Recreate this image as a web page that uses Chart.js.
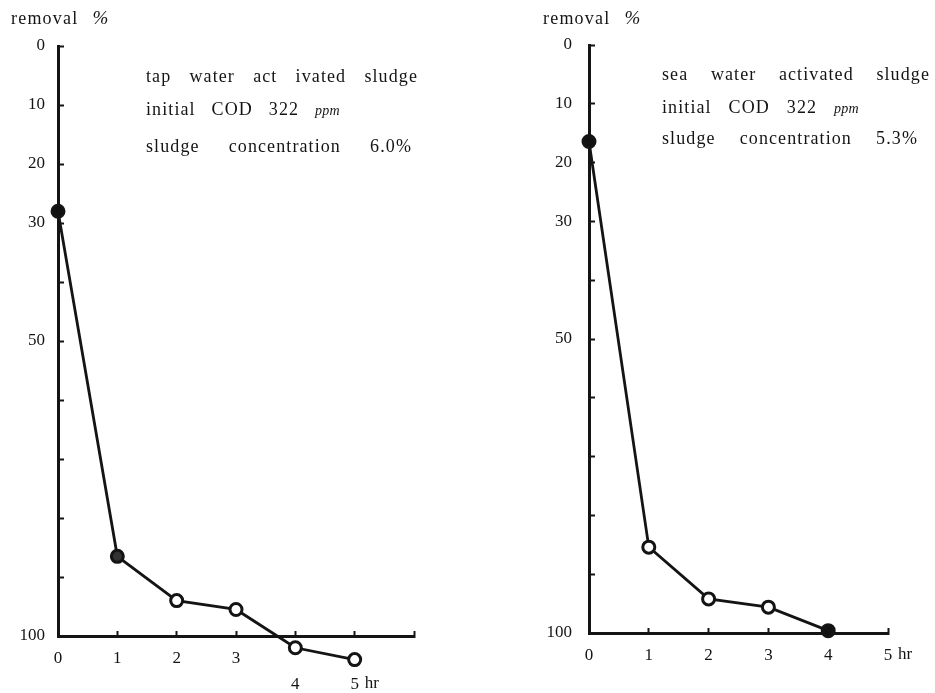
<!DOCTYPE html>
<html>
<head>
<meta charset="utf-8">
<script src="https://cdn.jsdelivr.net/npm/chart.js@4/dist/chart.umd.min.js"></script>
<style>
  body { margin: 0; width: 935px; height: 693px; position: relative; overflow: hidden;
         background: #fff; color: #141414; font-family: 'Liberation Serif', 'DejaVu Serif', serif; }
  .box { position: absolute; top: 0; height: 693px; }
  .ytitle { position: absolute; top: 7px; font-size: 18px; letter-spacing: 1.2px; white-space: nowrap; }
  .ytitle i { margin-left: 14px; font-size: 19px; }
  .note { position: absolute; font-size: 18px; line-height: 20px; letter-spacing: 1.1px; white-space: nowrap; }
  .note div { position: absolute; left: 0; text-align: justify; text-align-last: justify; }
  .note i { font-size: 14px; letter-spacing: 0.3px; }
</style>
</head>
<body>

<div class="box" style="left:0;width:440px"><canvas id="tapChart"></canvas></div>
<div class="box" style="left:531px;width:404px"><canvas id="seaChart"></canvas></div>

<div class="ytitle" style="left:11px">removal<i>%</i></div>
<div class="ytitle" style="left:543px">removal<i>%</i></div>

<div class="note" style="left:146px;top:0">
  <div style="top:66px;width:272px">tap water act ivated sludge</div>
  <div style="top:99px;width:194px">initial COD 322 <i>ppm</i></div>
  <div style="top:136px;width:266px">sludge concentration 6.0%</div>
</div>
<div class="note" style="left:662px;top:0">
  <div style="top:64px;width:268px">sea water activated sludge</div>
  <div style="top:97px;width:197px">initial COD 322 <i>ppm</i></div>
  <div style="top:128px;width:256px">sludge concentration 5.3%</div>
</div>

<script>
// ── data ────────────────────────────────────────────
const tapHours   = [0, 1, 2, 3, 4, 5];
const tapRemoval = [28, 86.5, 94, 95.5, 102, 104];
const tapFill    = ['#111', '#333', '#fff', '#fff', '#fff', '#fff'];

const seaHours   = [0, 1, 2, 3, 4];
const seaRemoval = [16.4, 85.4, 94.2, 95.6, 99.6];
const seaFill    = ['#111', '#fff', '#fff', '#fff', '#111'];

const yLabelled  = [0, 10, 20, 30, 50, 100];   // other 10-steps get a bare tick
const tapLowered = [4, 5];                     // x labels pushed down a line
const hrUnit     = 'hr';

const SERIF = "'Liberation Serif', serif";
const INK = '#141414';

// draws the "hr" unit right of the "5" label, and the points that
// fall below the 100 % line (Chart.js skips points outside chartArea)
const extras = {
  id: 'extras',
  afterDatasetsDraw(chart) {
    const big = { left: -1e4, top: -1e4, right: 1e4, bottom: 1e4 };
    chart.getDatasetMeta(0).data.forEach(pt => {
      if (pt.y > chart.chartArea.bottom) pt.draw(chart.ctx, big);
    });
  },
  afterDraw(chart, args, opts) {
    const x = chart.scales.x;
    const ctx = chart.ctx;
    ctx.save();
    ctx.font = `17px ${SERIF}`;
    ctx.fillStyle = INK;
    ctx.textBaseline = 'middle';
    ctx.fillText(hrUnit, x.getPixelForValue(opts.value) + 10, x.top + opts.dy);
    ctx.restore();
  }
};

function makeChart(id, hours, removal, fills, o) {
  const ctx = document.getElementById(id);
  ctx.width = o.w; ctx.height = 693;
  return new Chart(ctx, {
    type: 'line',
    data: {
      datasets: [{
        data: hours.map((h, i) => ({ x: h, y: removal[i] })),
        borderColor: INK,
        borderWidth: 2.8,
        pointRadius: 6,
        pointBorderWidth: 3,
        pointBorderColor: INK,
        pointBackgroundColor: fills,
        tension: 0,
        clip: false,
      }]
    },
    options: {
      responsive: false,
      animation: false,
      layout: { padding: { top: o.top, right: o.right, left: 0, bottom: 0 } },
      scales: {
        x: {
          type: 'linear', min: 0, max: o.xmax,
          afterFit: s => { s.height = 693 - o.bottom; },
          ticks: {
            stepSize: 1, padding: 15, color: INK, maxRotation: 0, autoSkip: false,
            font: { family: SERIF, size: 17, lineHeight: 1.5 },
            callback: v => {
              if (v >= o.xmax && o.xmax > 5) return '';
              return o.lowered.includes(v) ? ['', String(v)] : String(v);
            },
          },
          grid: { drawOnChartArea: false, tickLength: -5, tickWidth: 2, tickColor: INK },
          border: { display: true, color: INK, width: 3 },
        },
        y: {
          type: 'linear', min: 0, max: 100, reverse: true,
          afterFit: s => { s.width = 58; },
          ticks: {
            stepSize: 10, padding: o.ypad, color: INK,
            font: { family: SERIF, size: 17 },
            callback: v => yLabelled.includes(v) ? String(v) : '',
          },
          grid: { drawOnChartArea: false, tickLength: -6, tickWidth: 2, tickColor: INK },
          border: { display: true, color: INK, width: 3 },
        }
      },
      plugins: {
        legend: { display: false },
        tooltip: { enabled: false },
        extras: { value: 5, dy: o.hrDy },
      }
    },
    plugins: [extras]
  });
}

makeChart('tapChart', tapHours, tapRemoval, tapFill,
  { w: 440, top: 46, right: 26, bottom: 636, xmax: 6, ypad: 19, lowered: tapLowered, hrDy: 48 });
makeChart('seaChart', seaHours, seaRemoval, seaFill,
  { w: 404, top: 45, right: 47, bottom: 633, xmax: 5, ypad: 23, lowered: [], hrDy: 22 });
</script>
</body>
</html>
